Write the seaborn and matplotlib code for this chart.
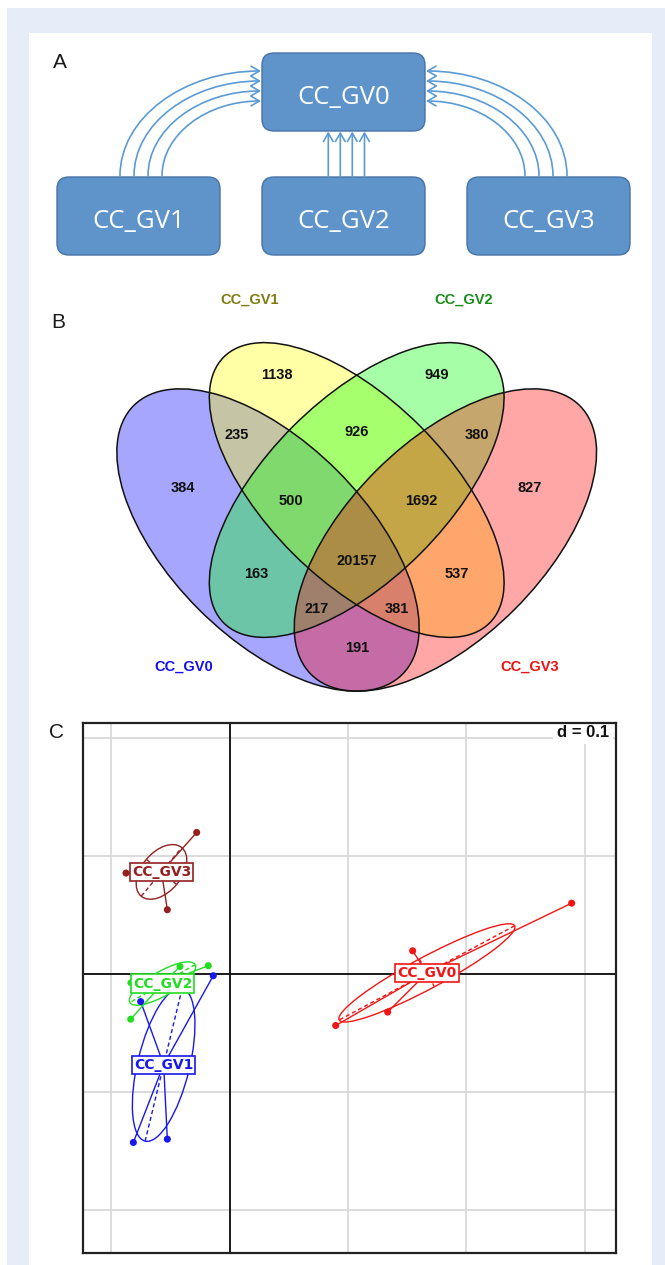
import numpy as np
import pandas as pd
import matplotlib
matplotlib.use("Agg")
import matplotlib.pyplot as plt
import seaborn as sns
from matplotlib.patches import Rectangle, FancyBboxPatch, Ellipse, FancyArrowPatch
from matplotlib.path import Path

sns.set_theme(style="white")
plt.rcParams["font.family"] = ["Liberation Sans", "DejaVu Sans"]

# ---------------- data ----------------
box_names = ["CC_GV0", "CC_GV1", "CC_GV2", "CC_GV3"]

venn_sets = ["CC_GV0", "CC_GV1", "CC_GV2", "CC_GV3"]
venn_counts = [384, 1138, 949, 827, 235, 926, 380, 500, 20157, 1692,
               163, 217, 191, 381, 537]

groups = ["CC_GV0", "CC_GV1", "CC_GV2", "CC_GV3"]
gv0_x = [0.2889, 0.1546, 0.1335, 0.0896]
gv0_y = [0.0603, 0.0199, -0.0320, -0.0434]
gv1_x = [-0.0138, -0.0751, -0.0813, -0.0526]
gv1_y = [-0.0012, -0.0231, -0.1425, -0.1397]
gv2_x = [-0.0180, -0.0419, -0.0835, -0.0833]
gv2_y = [0.0073, 0.0066, -0.0380, -0.0072]
gv3_x = [-0.0278, -0.0526, -0.0875, -0.0622]
gv3_y = [0.1202, 0.0547, 0.0858, 0.0864]

# ---------------- canvas ----------------
W, H = 665, 1265
fig = plt.figure(figsize=(W / 100, H / 100), dpi=100)
fig.patch.set_facecolor("white")
bg = fig.add_axes([0, 0, 1, 1])
bg.set_xlim(0, W)
bg.set_ylim(H, 0)
bg.axis("off")
bg.add_patch(Rectangle((7, 8), W - 7, H - 8, fc="#E6EDF8", ec="none", zorder=0))
bg.add_patch(Rectangle((29, 33), 623, H - 33, fc="white", ec="none", zorder=0))

letter_kw = dict(fontsize=15, ha="center", va="center", color="#1a1a1a")
bg.text(60, 62.5, "A", **letter_kw)
bg.text(58, 323, "B", **letter_kw)
bg.text(57, 733, "C", **letter_kw)

# ---------------- panel A: flow boxes ----------------
box_fc, box_ec = "#5E94CA", "#4673A6"
box_xy = [(262, 53), (57, 177), (262, 177), (467, 177)]
bw, bh = 163, 78
for name, (x0, y0) in zip(box_names, box_xy):
    bg.add_patch(FancyBboxPatch((x0, y0), bw, bh,
                                boxstyle="round,pad=0,rounding_size=12",
                                fc=box_fc, ec=box_ec, lw=1.0, zorder=2))
    bg.text(x0 + bw / 2, y0 + 51, name, color="white", fontsize=18.5,
            family="Open Sans", ha="center", va="baseline", zorder=3)

arrow_c = "#5B9BD5"
arrow_kw = dict(arrowstyle="->,head_length=0.6,head_width=0.35",
                mutation_scale=10, lw=1.2, color=arrow_c,
                shrinkA=0, shrinkB=0, zorder=2)
k = 0.5523
mid = 343.5
codes = [Path.MOVETO, Path.CURVE4, Path.CURVE4, Path.CURVE4]
for i in range(4):
    xs, ys = 120 + 14 * i, 176
    xe, ye = 261, 71 + 10 * i
    rx, ry = xe - xs, ys - ye
    verts = [(xs, ys), (xs, ys - k * ry), (xe - k * rx, ye), (xe, ye)]
    bg.add_patch(FancyArrowPatch(path=Path(verts, codes), **arrow_kw))
    mverts = [(2 * mid - x, y) for x, y in verts]
    bg.add_patch(FancyArrowPatch(path=Path(mverts, codes), **arrow_kw))
for xv in [328.3, 340.3, 352.3, 364.5]:
    bg.add_patch(FancyArrowPatch((xv, 177), (xv, 131.5), **arrow_kw))

# ---------------- panel B: four-set Venn ----------------
venn_fill = ["#0000FF", "#FFFF00", "#00FF00", "#FF0000"]
venn_geom = [(268.0, 540.0, 380, 196, 45),
             (356.7, 490.0, 376, 180, 45),
             (356.7, 490.0, 376, 180, -45),
             (445.4, 540.0, 380, 196, -45)]
for (cx, cy, w, h, ang), col in zip(venn_geom, venn_fill):
    bg.add_patch(Ellipse((cx, cy), w, h, angle=ang, fc=col, alpha=0.35,
                         ec="none", zorder=2))
for (cx, cy, w, h, ang) in venn_geom:
    bg.add_patch(Ellipse((cx, cy), w, h, angle=ang, fc="none",
                         ec="#111111", lw=1.1, zorder=3))

region_xy = [(183.3, 488), (276.7, 375), (436.7, 375), (530, 488),
             (236.7, 435), (356.7, 431.7), (476.7, 435),
             (291, 501), (356.7, 561), (421.7, 501),
             (256.7, 574.3), (316.7, 609.3), (356.7, 647.7), (396.7, 609.3),
             (456.7, 574.3)]
for n, (x, y) in zip(venn_counts, region_xy):
    bg.text(x, y, f"{n}", fontsize=10.5, weight="bold", ha="center",
            va="center", color="#111111", zorder=4)

set_label_xy = [(183.3, 666.7), (250, 299.3), (463.3, 299.3), (530, 666.7)]
set_label_col = ["#1010F0", "#7F7A10", "#1A8A1A", "#F01010"]
for s, (x, y), c in zip(venn_sets, set_label_xy, set_label_col):
    bg.text(x, y, s, fontsize=10.5, weight="bold", ha="center", va="center",
            color=c, zorder=4)

# ---------------- panel C: between-class scatter ----------------
axC = fig.add_axes([82.7 / W, 1 - 1252.7 / H, (615.5 - 82.7) / W, 530 / H])
axC.set_facecolor("white")

df = pd.DataFrame({
    "x": gv0_x + gv1_x + gv2_x + gv3_x,
    "y": gv0_y + gv1_y + gv2_y + gv3_y,
    "group": [g for g, n in zip(groups, [len(gv0_x), len(gv1_x), len(gv2_x), len(gv3_x)])
              for _ in range(n)],
})
pal = {"CC_GV0": "#F31515", "CC_GV1": "#1818EE", "CC_GV2": "#22DD22",
       "CC_GV3": "#952020"}

for gx in [-0.1, 0.1, 0.2, 0.3]:
    axC.axvline(gx, color="#D9D9D9", lw=1.3, zorder=0)
for gy in [-0.2, -0.1, 0.1, 0.2]:
    axC.axhline(gy, color="#D9D9D9", lw=1.3, zorder=0)
axC.axvline(0, color="#1a1a1a", lw=1.4, zorder=1)
axC.axhline(0, color="#1a1a1a", lw=1.4, zorder=1)

centers = {}
for g in groups:
    sub = df[df["group"] == g]
    pts = sub[["x", "y"]].to_numpy()
    m = pts.mean(axis=0)
    centers[g] = m
    c = pal[g]
    for p in pts:
        axC.plot([m[0], p[0]], [m[1], p[1]], color=c, lw=1.0, zorder=3)
    cov = np.cov(pts.T, bias=True)
    vals, vecs = np.linalg.eigh(cov)
    order = np.argsort(vals)[::-1]
    vals, vecs = vals[order], vecs[:, order]
    ang = np.degrees(np.arctan2(vecs[1, 0], vecs[0, 0]))
    axC.add_patch(Ellipse(m, 2 * np.sqrt(vals[0]), 2 * np.sqrt(vals[1]),
                          angle=ang, fc="none", ec=c, lw=1.0, zorder=3))
    for lam, v in zip(vals, vecs.T):
        r = np.sqrt(lam)
        axC.plot([m[0] - r * v[0], m[0] + r * v[0]],
                 [m[1] - r * v[1], m[1] + r * v[1]],
                 color=c, lw=1.0, ls=(0, (3, 2)), zorder=3)

sns.scatterplot(data=df, x="x", y="y", hue="group", palette=pal, s=26,
                edgecolor="none", legend=False, ax=axC, zorder=4)

for g in groups:
    m = centers[g]
    axC.text(m[0], m[1], g, fontsize=10, weight="bold", family="DejaVu Sans",
             color=pal[g], ha="center", va="center", zorder=6,
             bbox=dict(boxstyle="square,pad=0.15", fc="white", ec=pal[g], lw=1.2))

axC.text(0.988, 0.982, "d = 0.1", transform=axC.transAxes, ha="right",
         va="center", fontsize=12, weight="bold", color="#111111", zorder=6,
         bbox=dict(fc="white", ec="none", pad=3))

axC.set_xlim(-0.12407, 0.32593)
axC.set_ylim(-0.23593, 0.21322)
axC.set_xticks([])
axC.set_yticks([])
axC.set_xlabel("")
axC.set_ylabel("")
for sp in axC.spines.values():
    sp.set_visible(True)
    sp.set_color("#222222")
    sp.set_linewidth(1.6)
    sp.set_zorder(8)

fig.savefig("out.png", dpi=100)
